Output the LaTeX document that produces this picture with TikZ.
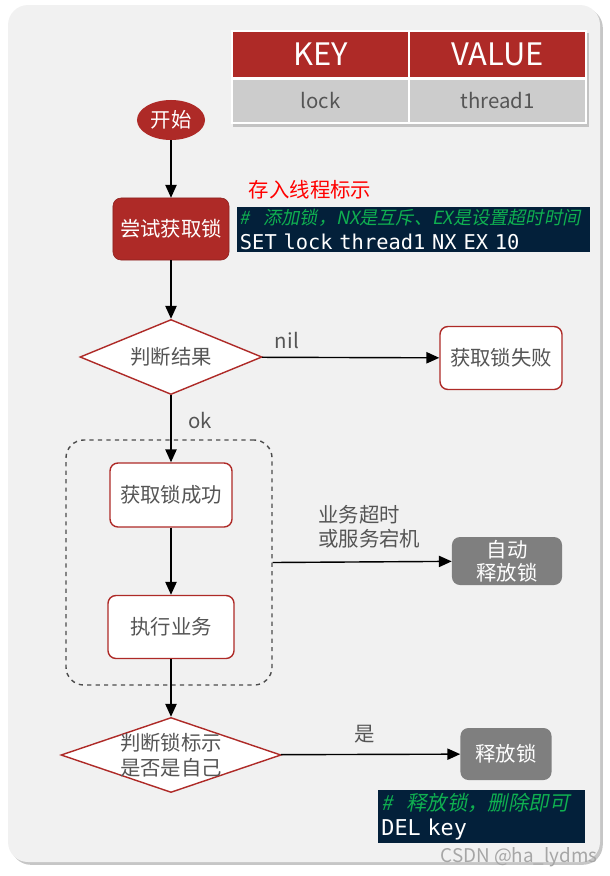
\documentclass[tikz,border=0pt]{standalone}
\usepackage{fontspec}
\setmainfont{Noto Sans CJK SC}
\newfontfamily\codefont{DejaVu Sans Mono}
\newfontfamily\commentfont[FakeSlant=0.2]{Noto Sans CJK SC}
\usetikzlibrary{shapes, positioning, matrix, shadows, arrows.meta}

\definecolor{lockred}{HTML}{AE2A27}
\definecolor{panelgray}{HTML}{F1F1F1}
\definecolor{cellgray}{HTML}{CCCCCC}
\definecolor{txtgray}{HTML}{555555}
\definecolor{boxgray}{HTML}{7F7F7F}
\definecolor{codebg}{HTML}{03203A}
\definecolor{codegreen}{HTML}{0FB050}

\begin{document}
\begin{tikzpicture}[
    x=0.025cm, y=-0.025cm,
    font=\fontsize{14.5}{18}\selectfont,
    >={Triangle[length=0.32cm, width=0.28cm]},
    flow/.style={->, line width=1pt, black},
    header/.style={
        fill=lockred,
        text=white,
        font=\fontsize{22}{24}\selectfont,
        minimum height=1.125cm,
        minimum width=4.375cm
    },
    row_cell/.style={
        fill=cellgray,
        text=txtgray,
        minimum height=1.05cm,
        minimum width=4.375cm
    },
    redbox/.style={
        fill=lockred,
        draw=lockred!80!black,
        text=white,
        rounded corners=0.2cm
    },
    whitebox/.style={
        fill=white,
        draw=lockred,
        line width=1pt,
        text=txtgray,
        rounded corners=0.2cm
    },
    graybox/.style={
        fill=boxgray,
        text=white,
        rounded corners=0.2cm,
        align=center,
        inner sep=0pt
    },
    decision/.style={
        diamond,
        fill=white,
        draw=lockred,
        line width=1pt,
        text=txtgray,
        inner xsep=0pt,
        inner ysep=-0.3cm,
        align=center
    },
    codebox/.style={
        fill=codebg,
        text=white,
        align=left,
        inner sep=0pt
    },
    edge_label/.style={
        text=txtgray,
        align=left
    }
]
    \useasboundingbox (0,0) rectangle (610,876);

    % Background panel
    \fill[panelgray, rounded corners=0.5cm,
        drop shadow={shadow xshift=2pt, shadow yshift=-2pt, opacity=0.45, fill=gray}]
        (8,5) rectangle (600,862);

    % Key / value table
    \matrix (kv) [
        matrix of nodes,
        nodes={anchor=center, inner sep=0pt},
        column sep=0.05cm,
        row sep=0.075cm,
        fill=white,
        inner sep=0.05cm,
        drop shadow={shadow xshift=1.5pt, shadow yshift=-2pt, opacity=0.4, fill=gray}
    ] at (409,77) {
        |[header]| KEY & |[header]| VALUE \\
        |[row_cell]| lock & |[row_cell]| thread1 \\
    };

    % Flow nodes
    \node[ellipse, fill=lockred, text=white, minimum width=1.7cm, minimum height=1cm, inner sep=0pt] (start) at (171,120) {开始};
    \node[redbox, minimum width=2.9cm, minimum height=1.55cm] (try) at (171,229) {尝试获取锁};
    \node[decision, aspect=2.4, minimum width=4.55cm, minimum height=1.875cm] (judge) at (171,357) {判断结果};
    \node[whitebox, minimum width=3.05cm, minimum height=1.575cm] (fail) at (501,358) {获取锁失败};
    \node[draw=black!70, dashed, line width=1pt, rounded corners=0.45cm, minimum width=5.15cm, minimum height=6.125cm] (grp) at (169,562.5) {};
    \node[whitebox, minimum width=3.05cm, minimum height=1.6cm] (succ) at (171,495) {获取锁成功};
    \node[whitebox, minimum width=3.15cm, minimum height=1.575cm] (exec) at (171,627) {执行业务};
    \node[graybox, minimum width=2.75cm, minimum height=1.2cm, font=\fontsize{14.5}{16.5}\selectfont] (auto) at (507,561) {自动\\释放锁};
    \node[decision, aspect=2.9, minimum width=5.5cm, minimum height=1.875cm, font=\fontsize{14.5}{17.5}\selectfont] (check) at (171,755) {判断锁标示\\是否是自己};
    \node[graybox, minimum width=2.275cm, minimum height=1.3cm] (release) at (506,754) {释放锁};

    % Notes and commands
    \node[text=red] (tag) at (310,190) {存入线程标示};
    \node[codebox, minimum width=8.825cm, minimum height=1.125cm, text width=8.675cm] (setcmd) at (413.5,229.5)
        {\mbox{\commentfont\fontsize{12.9}{17}\selectfont\color{codegreen}\#\ \ 添加锁，NX是互斥、EX是设置超时时间}\\
         \mbox{\codefont\fontsize{14.5}{17}\selectfont SET lock thread1 NX EX 10}};
    \node[codebox, minimum width=5.175cm, minimum height=1.325cm, text width=5.0cm] (delcmd) at (481.5,816.5)
        {\mbox{\commentfont\fontsize{14.5}{19}\selectfont\color{codegreen}\#\ \ 释放锁，删除即可}\\
         \mbox{\codefont\fontsize{15.5}{19}\selectfont DEL key}};
    \node[text=gray!70, font=\fontsize{13.4}{15}\selectfont] (mark) at (519,857) {CSDN @ha\_lydms};

    % Connectors
    \draw[flow] (start) -- (try);
    \draw[flow] (try) -- (judge);
    \draw[flow] (judge) -- node[edge_label, pos=0.14, above=2pt] {nil} (fail);
    \draw[flow] (judge) -- node[edge_label, pos=0.37, right=0.3cm] {ok} (succ);
    \draw[flow] (succ) -- (exec);
    \draw[flow] (grp.east) -- node[edge_label, pos=0.54, above=0.2cm, font=\fontsize{14.5}{17.5}\selectfont] {业务超时\\或服务宕机} (auto);
    \draw[flow] (exec) -- (check);
    \draw[flow] (check) -- node[edge_label, pos=0.47, above=4pt] {是} (release);

\end{tikzpicture}
\end{document}
